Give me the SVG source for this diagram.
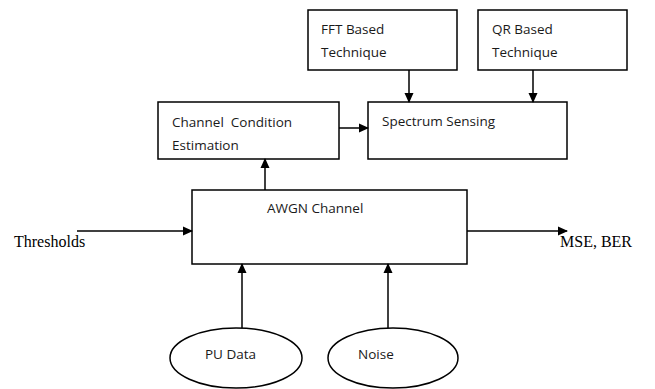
<svg xmlns="http://www.w3.org/2000/svg" width="655" height="389" viewBox="0 0 655 389">
<style>
.box{fill:#fff;stroke:#000;stroke-width:1.5}
.t{font-family:"Open Sans","Liberation Sans",sans-serif;font-size:13.5px;fill:#1a1a1a}
.s{font-family:"Liberation Serif",serif;font-size:16px;fill:#000}
.c{stroke:#000;stroke-width:1.5;fill:none;marker-end:url(#ah)}
</style>
<defs>
<marker id="ah" markerWidth="10" markerHeight="10" refX="9" refY="5" orient="auto" markerUnits="userSpaceOnUse">
<path d="M0,0.5 L10,5 L0,9.5 Z" fill="#000"/>
</marker>
</defs>
<rect width="655" height="389" fill="#fff"/>
<g id="fft"><rect class="box" x="308" y="10" width="149" height="60"/><text class="t" x="321" y="34">FFT Based</text><text class="t" x="321" y="57">Technique</text></g>
<g id="qr"><rect class="box" x="478" y="10" width="149" height="60"/><text class="t" x="492" y="34">QR Based</text><text class="t" x="492" y="57">Technique</text></g>
<g id="cce"><rect class="box" x="158" y="102" width="181" height="57"/><text class="t" x="172" y="127" xml:space="preserve" style="white-space:pre">Channel  Condition</text><text class="t" x="172" y="150">Estimation</text></g>
<g id="ss"><rect class="box" x="368" y="102" width="199" height="57"/><text class="t" x="382" y="126">Spectrum Sensing</text></g>
<g id="awgn"><rect class="box" x="192" y="190" width="275" height="74"/><text class="t" x="267" y="213">AWGN Channel</text></g>
<g id="thresholds"><text class="s" x="14" y="247">Thresholds</text></g>
<g id="mse"><text class="s" x="560" y="247">MSE, BER</text></g>
<g id="pu"><ellipse class="box" cx="236" cy="358" rx="66" ry="30"/><text class="t" x="205" y="359">PU Data</text></g>
<g id="noise"><ellipse class="box" cx="393" cy="358" rx="65" ry="30"/><text class="t" x="358" y="359">Noise</text></g>
<g id="connectors">
<line class="c" x1="409" y1="70" x2="409" y2="102"/>
<line class="c" x1="533" y1="70" x2="533" y2="102"/>
<line class="c" x1="339" y1="128" x2="368" y2="128"/>
<line class="c" x1="265" y1="190" x2="265" y2="159"/>
<line class="c" x1="77" y1="231" x2="192" y2="231"/>
<line class="c" x1="467" y1="231" x2="567" y2="231"/>
<line class="c" x1="242" y1="328" x2="242" y2="264"/>
<line class="c" x1="388" y1="328" x2="388" y2="264"/>
</g>
</svg>
